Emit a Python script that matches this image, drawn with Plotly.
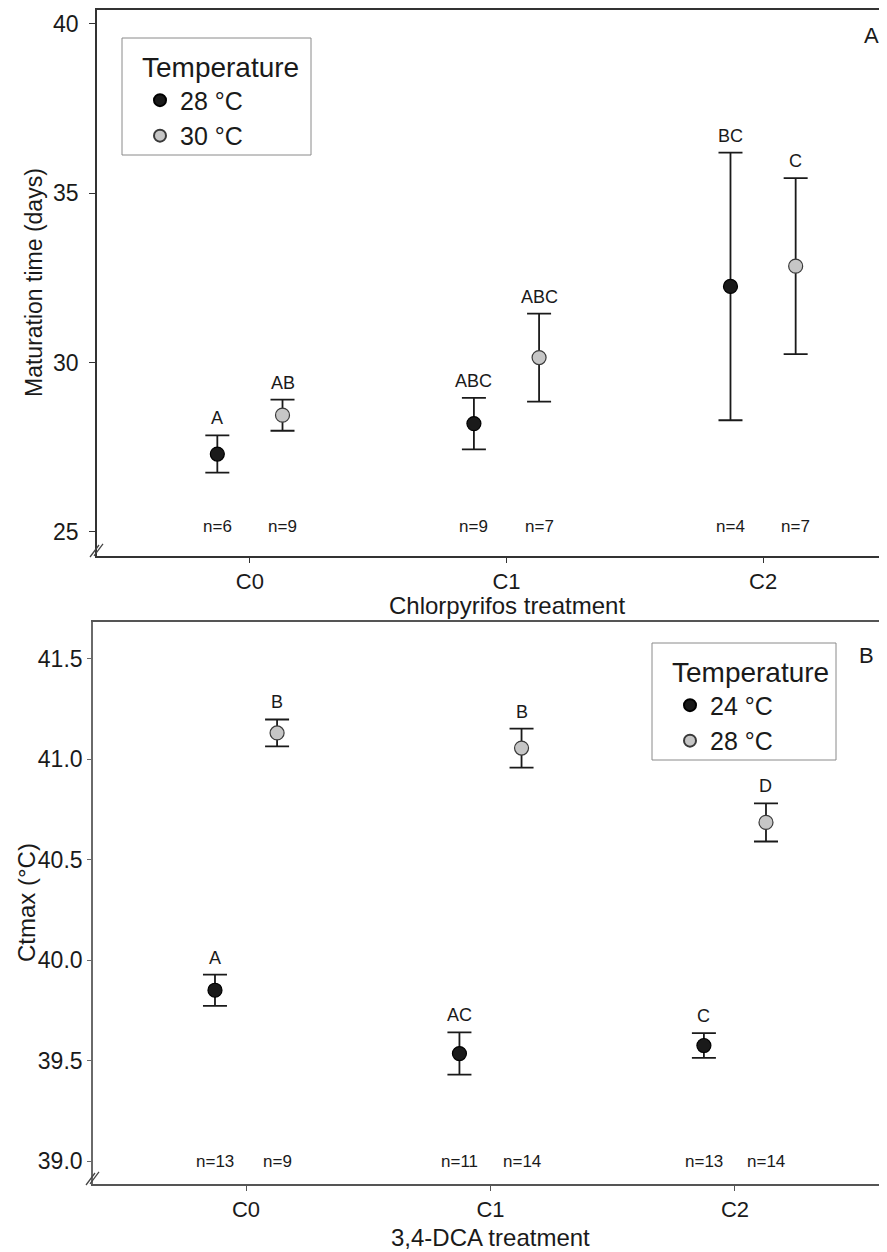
import plotly.graph_objects as go

# ---------------- data ----------------
categories = ["C0", "C1", "C2"]

# Panel A: maturation time (days)
a_series = ["28 °C", "30 °C"]
a_mean_28 = [27.3, 28.2, 32.25]
a_err_28 = [0.55, 0.76, 3.95]
a_mean_30 = [28.45, 30.15, 32.85]
a_err_30 = [0.46, 1.30, 2.60]
a_letters_28 = ["A", "ABC", "BC"]
a_letters_30 = ["AB", "ABC", "C"]
a_n_28 = [6, 9, 4]
a_n_30 = [9, 7, 7]
a_yticks = [25, 30, 35, 40]

# Panel B: CTmax (°C)
b_series = ["24 °C", "28 °C"]
b_mean_24 = [39.85, 39.535, 39.575]
b_err_24 = [0.078, 0.105, 0.062]
b_mean_28 = [41.13, 41.055, 40.685]
b_err_28 = [0.067, 0.097, 0.095]
b_letters_24 = ["A", "AC", "C"]
b_letters_28 = ["B", "B", "D"]
b_n_24 = [13, 11, 13]
b_n_28 = [9, 14, 14]
b_yticks = [39.0, 39.5, 40.0, 40.5, 41.0, 41.5]

# ---------------- style / geometry ----------------
PAGE_W, PAGE_H = 887, 1252
OFF = 8                      # default body margin of the html page
FW, FH = PAGE_W - OFF, PAGE_H - OFF
FONT = "Liberation Sans, Arial, Helvetica, sans-serif"
INK = "#1a1a1a"
DARK_FILL = "#1a1a1a"
LIGHT_FILL = "#c6c6c6"
DODGE = 0.127


def PX(x):
    return (x - OFF) / FW


def PY(y):
    return 1 - (y - OFF) / FH


A_LEFT, A_TOP, A_BOTTOM = 97, 10, 556
B_LEFT, B_TOP, B_BOTTOM = 93, 622, 1184
# legend frames (left, top, right, bottom) in page pixels
A_LEG = (122, 38, 311, 155)
B_LEG = (652, 643, 836, 760)

fig = go.Figure()


def add_series(xaxis, yaxis, legend, name, means, errs, fill, outline, shift):
    xs = [i + shift for i in range(len(categories))]
    fig.add_trace(go.Scatter(
        x=xs, y=means, mode="markers", name=name,
        xaxis=xaxis, yaxis=yaxis, legend=legend,
        marker=dict(size=14, color=fill, line=dict(color=outline, width=1.2)),
        error_y=dict(type="data", array=errs, symmetric=True,
                     color=INK, thickness=1.8, width=12),
        hoverinfo="skip",
    ))
    return xs


annotations = []


def add_labels(xref, yref, xs, means, errs, letters, ns, n_level):
    for x, m, e, lab, n in zip(xs, means, errs, letters, ns):
        annotations.append(dict(
            x=x, y=m + e, xref=xref, yref=yref, text=lab, showarrow=False,
            xanchor="center", yanchor="middle", yshift=17,
            font=dict(size=18, color=INK, family=FONT)))
        annotations.append(dict(
            x=x, y=n_level, xref=xref, yref=yref, text=f"n={n}", showarrow=False,
            xanchor="center", yanchor="middle",
            font=dict(size=17, color=INK, family=FONT)))


# Panel A
xa28 = add_series("x", "y", "legend", a_series[0], a_mean_28, a_err_28, DARK_FILL, "#000000", -DODGE)
xa30 = add_series("x", "y", "legend", a_series[1], a_mean_30, a_err_30, LIGHT_FILL, "#3a3a3a", DODGE)
add_labels("x", "y", xa28, a_mean_28, a_err_28, a_letters_28, a_n_28, 25.15)
add_labels("x", "y", xa30, a_mean_30, a_err_30, a_letters_30, a_n_30, 25.15)

# Panel B
xb24 = add_series("x2", "y2", "legend2", b_series[0], b_mean_24, b_err_24, DARK_FILL, "#000000", -DODGE)
xb28 = add_series("x2", "y2", "legend2", b_series[1], b_mean_28, b_err_28, LIGHT_FILL, "#3a3a3a", DODGE)
add_labels("x2", "y2", xb24, b_mean_24, b_err_24, b_letters_24, b_n_24, 39.0)
add_labels("x2", "y2", xb28, b_mean_28, b_err_28, b_letters_28, b_n_28, 39.0)


def axis_style(linecolor):
    return dict(showgrid=False, zeroline=False, showline=True, linecolor=linecolor,
                linewidth=1.6, ticks="outside", tickwidth=1.4, tickcolor=linecolor,
                automargin=False, tickfont=dict(size=22, color=INK, family=FONT))


legend_common = dict(xanchor="left", yanchor="top", bgcolor="rgba(0,0,0,0)",
                     borderwidth=0, itemsizing="constant",
                     font=dict(size=25, color=INK, family=FONT),
                     title=dict(text="Temperature",
                                font=dict(size=28, color=INK, family=FONT)))

fig.update_layout(
    width=FW, height=FH, margin=dict(l=0, r=0, t=0, b=0),
    paper_bgcolor="white", plot_bgcolor="white",
    font=dict(family=FONT, color=INK),
    xaxis=dict(domain=[PX(A_LEFT), 1], range=[-0.596, 2.483], anchor="y",
               tickvals=[0, 1, 2], ticktext=categories, mirror=True, ticklen=5,
               **axis_style("#333333")),
    yaxis=dict(domain=[PY(A_BOTTOM), PY(A_TOP)], range=[24.291, 40.413], anchor="x",
               tickvals=a_yticks, ticklen=6, ticklabelstandoff=6,
               **axis_style("#333333")),
    xaxis2=dict(domain=[PX(B_LEFT), 1], range=[-0.626, 2.622], anchor="y2",
                tickvals=[0, 1, 2], ticktext=categories, mirror=True, ticklen=5,
                **axis_style("#555555")),
    yaxis2=dict(domain=[PY(B_BOTTOM), PY(B_TOP)], range=[38.886, 41.682], anchor="x2",
                tickvals=b_yticks, tickformat=".1f", ticklen=4, ticklabelstandoff=0,
                **axis_style("#6a6a6a")),
    legend=dict(x=PX(A_LEG[0] + 18), y=PY(A_LEG[1] + 3), **legend_common),
    legend2=dict(x=PX(B_LEG[0] + 18), y=PY(B_LEG[1] + 3), **legend_common),
    showlegend=True,
)
fig.update_yaxes(tickfont=dict(size=23, color=INK, family=FONT))

# axis titles and panel letters
center = dict(showarrow=False, xanchor="center", yanchor="middle")
annotations += [
    dict(x=PX(34), y=PY((A_TOP + A_BOTTOM) / 2), xref="paper", yref="paper",
         text="Maturation time (days)", textangle=-90,
         font=dict(size=23, color=INK, family=FONT), **center),
    dict(x=1, y=PY(605), xref="x", yref="paper", text="Chlorpyrifos treatment",
         font=dict(size=24, color=INK, family=FONT), **center),
    dict(x=PX(26), y=PY((B_TOP + B_BOTTOM) / 2), xref="paper", yref="paper",
         text="Ctmax (°C)", textangle=-90,
         font=dict(size=24, color=INK, family=FONT), **center),
    dict(x=1, y=PY(1237), xref="x2", yref="paper", text="3,4-DCA treatment",
         font=dict(size=24, color=INK, family=FONT), **center),
    dict(x=PX(871), y=PY(36), xref="paper", yref="paper", text="A",
         font=dict(size=22, color=INK, family=FONT), **center),
    dict(x=PX(866), y=PY(655), xref="paper", yref="paper", text="B",
         font=dict(size=22, color=INK, family=FONT), **center),
]
fig.update_layout(annotations=annotations)

shapes = []
# legend frames
for l, t, r, b in (A_LEG, B_LEG):
    shapes.append(dict(type="rect", xref="paper", yref="paper",
                       x0=PX(l), x1=PX(r), y0=PY(b), y1=PY(t),
                       line=dict(color="#8a8a8a", width=1), fillcolor="white",
                       layer="above"))
# axis-break marks at the bottom of each y axis
for left, bottom in [(A_LEFT, A_BOTTOM), (B_LEFT, B_BOTTOM)]:
    for dx in (0, 4):
        shapes.append(dict(type="line", xref="paper", yref="paper",
                           x0=PX(left - 7 + dx), y0=PY(bottom + 1 - dx * 0.3),
                           x1=PX(left + 2 + dx), y1=PY(bottom - 11 - dx * 0.3),
                           line=dict(color="#444444", width=1.3)))
fig.update_layout(shapes=shapes)

fig.write_html("out.html")
